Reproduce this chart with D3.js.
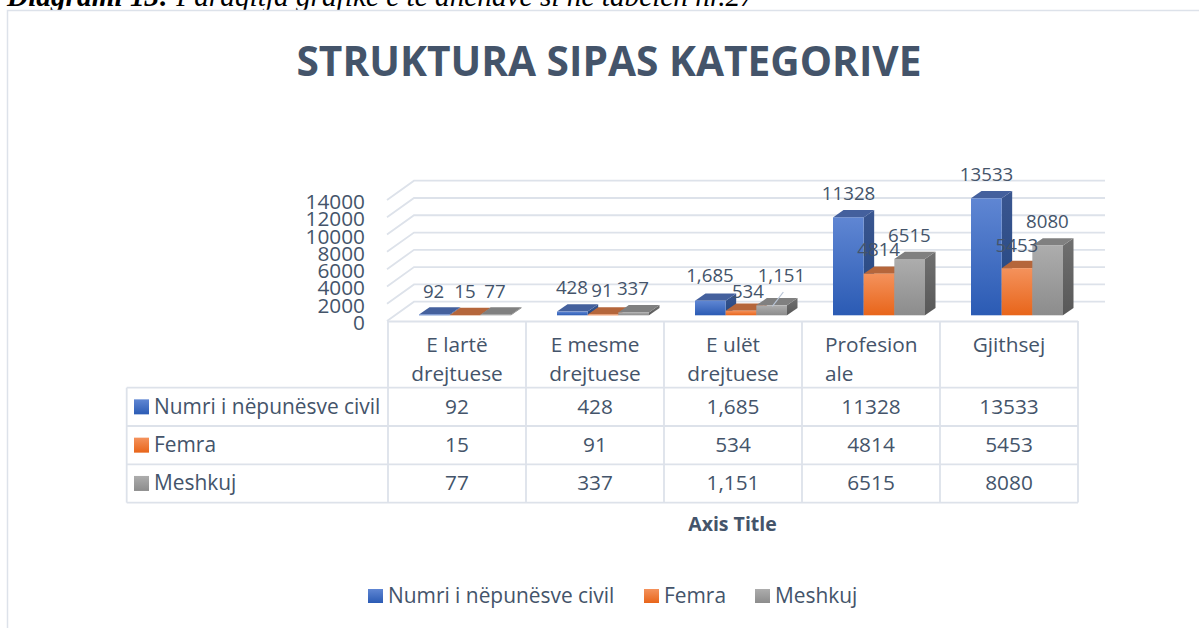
<!DOCTYPE html>
<html><head><meta charset="utf-8">
<script src="https://cdn.jsdelivr.net/npm/d3@7"></script>
<style>html,body{margin:0;padding:0;background:#fff;overflow:hidden}svg{display:block}</style>
</head><body><div id="c"></div>
<script>
const categories=[["E lartë","drejtuese"],["E mesme","drejtuese"],["E ulët","drejtuese"],["Profesion","ale"],["Gjithsej"]];
const seriesNames=["Numri i nëpunësve civil","Femra","Meshkuj"];
const numriValues=[92,428,1685,11328,13533];
const femraValues=[15,91,534,4814,5453];
const meshkujValues=[77,337,1151,6515,8080];
const numriLabels=["92","428","1,685","11328","13533"];
const femraLabels=["15","91","534","4814","5453"];
const meshkujLabels=["77","337","1,151","6515","8080"];
const yTicks=[0,2000,4000,6000,8000,10000,12000,14000];
const seriesValues=[numriValues,femraValues,meshkujValues];
const seriesLabels=[numriLabels,femraLabels,meshkujLabels];
// hand-placed label centres, as moved in the original (x offset from bar centre, absolute y)
const labelDx=[[-6,-5.6,-5.6,-5,-5],[-5.3,-6.3,1.7,-5.6,-5.3],[-6,-6,4.5,-5.5,-5.5]];
const labelY=[[291,287.3,275,193.3,174],[291.7,290.7,291.7,249,245],[291,288.7,275,235.5,221.7]];

const W=1199,H=628;
const svg=d3.select("#c").append("svg").attr("width",W).attr("height",H);
const font="'Open Sans',sans-serif", tc="#44546a", grid="#dde2ea";
const defs=svg.append("defs");
const fills=[["#5f86d3","#2b5bb4"],["#f4925c","#e8651a"],["#adadad","#8c8c8c"]];
const tops=["#44609d","#b5663b","#808080"];
const sides=[["#3a5690","#234680"],["#a8552a","#a8552a"],["#707070","#585858"]];
fills.forEach((f,i)=>{const g=defs.append("linearGradient").attr("id","f"+i).attr("x1",0).attr("x2",0).attr("y1",0).attr("y2",1);
 g.append("stop").attr("offset",0).attr("stop-color",f[0]);g.append("stop").attr("offset",1).attr("stop-color",f[1]);
 const s=defs.append("linearGradient").attr("id","s"+i).attr("x1",0).attr("x2",0).attr("y1",0).attr("y2",1);
 s.append("stop").attr("offset",0).attr("stop-color",sides[i][0]);s.append("stop").attr("offset",1).attr("stop-color",sides[i][1]);});

// top caption (clipped by the page edge and the chart frame)
svg.append("text").attr("x",7).attr("y",6).attr("font-family","'Liberation Serif',serif").attr("font-size",29.3).attr("font-style","italic")
 .call(t=>{t.append("tspan").attr("font-weight","bold").text("Diagrami 13: ");t.append("tspan").text("Paraqitja grafike e të dhënave si në tabelën nr.27");});
svg.append("rect").attr("x",7).attr("y",10).attr("width",W-7).attr("height",H-10).attr("fill","#fff");

// chart frame
svg.append("path").attr("d",`M7.5,${H} V10.5 H${W}`).attr("fill","none").attr("stroke",grid).attr("stroke-width",1.5);

svg.append("text").attr("x",609).attr("y",76).attr("text-anchor","middle").attr("font-family",font).attr("font-weight",700).attr("font-size",40.65).attr("fill",tc).text("STRUKTURA SIPAS KATEGORIVE");

// scales
const x0=d3.scaleBand().domain(d3.range(categories.length)).range([388,1078]);
const yBack=d3.scaleLinear().domain([0,14000]).range([301.7,180.7]);
const yFront=d3.scaleLinear().domain([0,14000]).range([321,200]);
const yAxis=d3.scaleLinear().domain([0,14000]).range([322.5,201.5]);
const barBase=d3.scaleLinear().domain([0,14000]).range([315.3,194.3]);
const x1=d3.scaleBand().domain([0,1,2]).range([31,123]);
const bd={x:10.5,y:7.3};

// walls: gridlines
const g=svg.append("g").attr("stroke",grid).attr("stroke-width",1.8).attr("fill","none");
yTicks.forEach(t=>g.append("path").attr("d",`M387,${yFront(t)} L414,${yBack(t)} H1105`));

// y axis labels
yTicks.forEach(t=>svg.append("text").attr("x",365).attr("y",yAxis(t)).attr("dy","0.36em").attr("text-anchor","end")
 .attr("font-family",font).attr("font-size",20.8).attr("fill",tc).text(t));

// bars
seriesValues.forEach((vals,s)=>{
 vals.forEach((v,c)=>{
  const xl=x0(c)+x1(s), w=x1.bandwidth(), yt=barBase(v), yb=barBase(0);
  const m=svg.append("g");
  m.append("path").attr("d",`M${xl+w},${yt} l${bd.x},${-bd.y} V${yb-bd.y} l${-bd.x},${bd.y} Z`).attr("fill",`url(#s${s})`);
  m.append("path").attr("d",`M${xl},${yt} l${bd.x},${-bd.y} h${w} l${-bd.x},${bd.y} Z`).attr("fill",tops[s]);
  m.append("rect").attr("x",xl).attr("y",yt).attr("width",w).attr("height",Math.max(yb-yt,.1)).attr("fill",`url(#f${s})`);
 });
});
// leader line for the moved label
const lx=x0(2)+x1(2);
svg.append("path").attr("d",`M${lx+16},${barBase(meshkujValues[2])+1} L${lx+27},292`).attr("stroke","#b8c4d6").attr("stroke-width",1.2).attr("fill","none");

// data labels
seriesLabels.forEach((labs,s)=>labs.forEach((l,c)=>{
 svg.append("text").attr("x",x0(c)+x1(s)+x1.bandwidth()/2+bd.x/2+labelDx[s][c]).attr("y",labelY[s][c]).attr("dy","0.36em").attr("text-anchor","middle")
 .attr("font-family",font).attr("font-size",18.7).attr("fill",tc).text(l);
}));

// data table
const rowY=d3.scaleBand().domain([0,1,2]).range([387.7,502.6]);
const t=svg.append("g").attr("stroke",grid).attr("stroke-width",1.8).attr("fill","none");
x0.domain().forEach(c=>t.append("line").attr("x1",x0(c)).attr("x2",x0(c)).attr("y1",321).attr("y2",502.6));
t.append("line").attr("x1",1078).attr("x2",1078).attr("y1",321).attr("y2",502.6);
t.append("line").attr("x1",388).attr("x2",1078).attr("y1",321.5).attr("y2",321.5);
t.append("line").attr("x1",126.7).attr("x2",126.7).attr("y1",387.7).attr("y2",502.6);
[0,1,2].forEach(r=>t.append("line").attr("x1",126.7).attr("x2",1078).attr("y1",rowY(r)).attr("y2",rowY(r)));
t.append("line").attr("x1",126.7).attr("x2",1078).attr("y1",502.6).attr("y2",502.6);
categories.forEach((ls,c)=>ls.forEach((l,i)=>{
 const wrapped=c===3;
 svg.append("text").attr("x",x0(c)+x0.bandwidth()/2-(wrapped?46:0)).attr("y",345+i*28.5).attr("dy","0.36em").attr("text-anchor",wrapped?"start":"middle")
 .attr("font-family",font).attr("font-size",20.8).attr("fill",tc).text(l);
}));
seriesNames.forEach((n,r)=>{
 const yc=rowY(r)+rowY.bandwidth()/2;
 svg.append("rect").attr("x",134).attr("y",yc-7.5).attr("width",15).attr("height",15).attr("fill",`url(#f${r})`);
 svg.append("text").attr("x",154).attr("y",yc-0.7).attr("dy","0.36em").attr("font-family",font).attr("font-size",20.9).attr("fill",tc).text(n);
 seriesLabels[r].forEach((l,c)=>svg.append("text").attr("x",x0(c)+x0.bandwidth()/2).attr("y",yc-0.7).attr("dy","0.36em").attr("text-anchor","middle")
  .attr("font-family",font).attr("font-size",20.8).attr("fill",tc).text(l));
});

svg.append("text").attr("x",732.5).attr("y",523.5).attr("dy","0.36em").attr("text-anchor","middle").attr("font-family",font).attr("font-weight",700).attr("font-size",19.5).attr("fill",tc).text("Axis Title");

// legend
const legendX=[368,644,755];
seriesNames.forEach((n,i)=>{
 svg.append("rect").attr("x",legendX[i]).attr("y",589).attr("width",15).attr("height",14).attr("fill",`url(#f${i})`);
 svg.append("text").attr("x",legendX[i]+20).attr("y",595.3).attr("dy","0.36em").attr("font-family",font).attr("font-size",20.9).attr("fill",tc).text(n);
});
</script></body></html>
